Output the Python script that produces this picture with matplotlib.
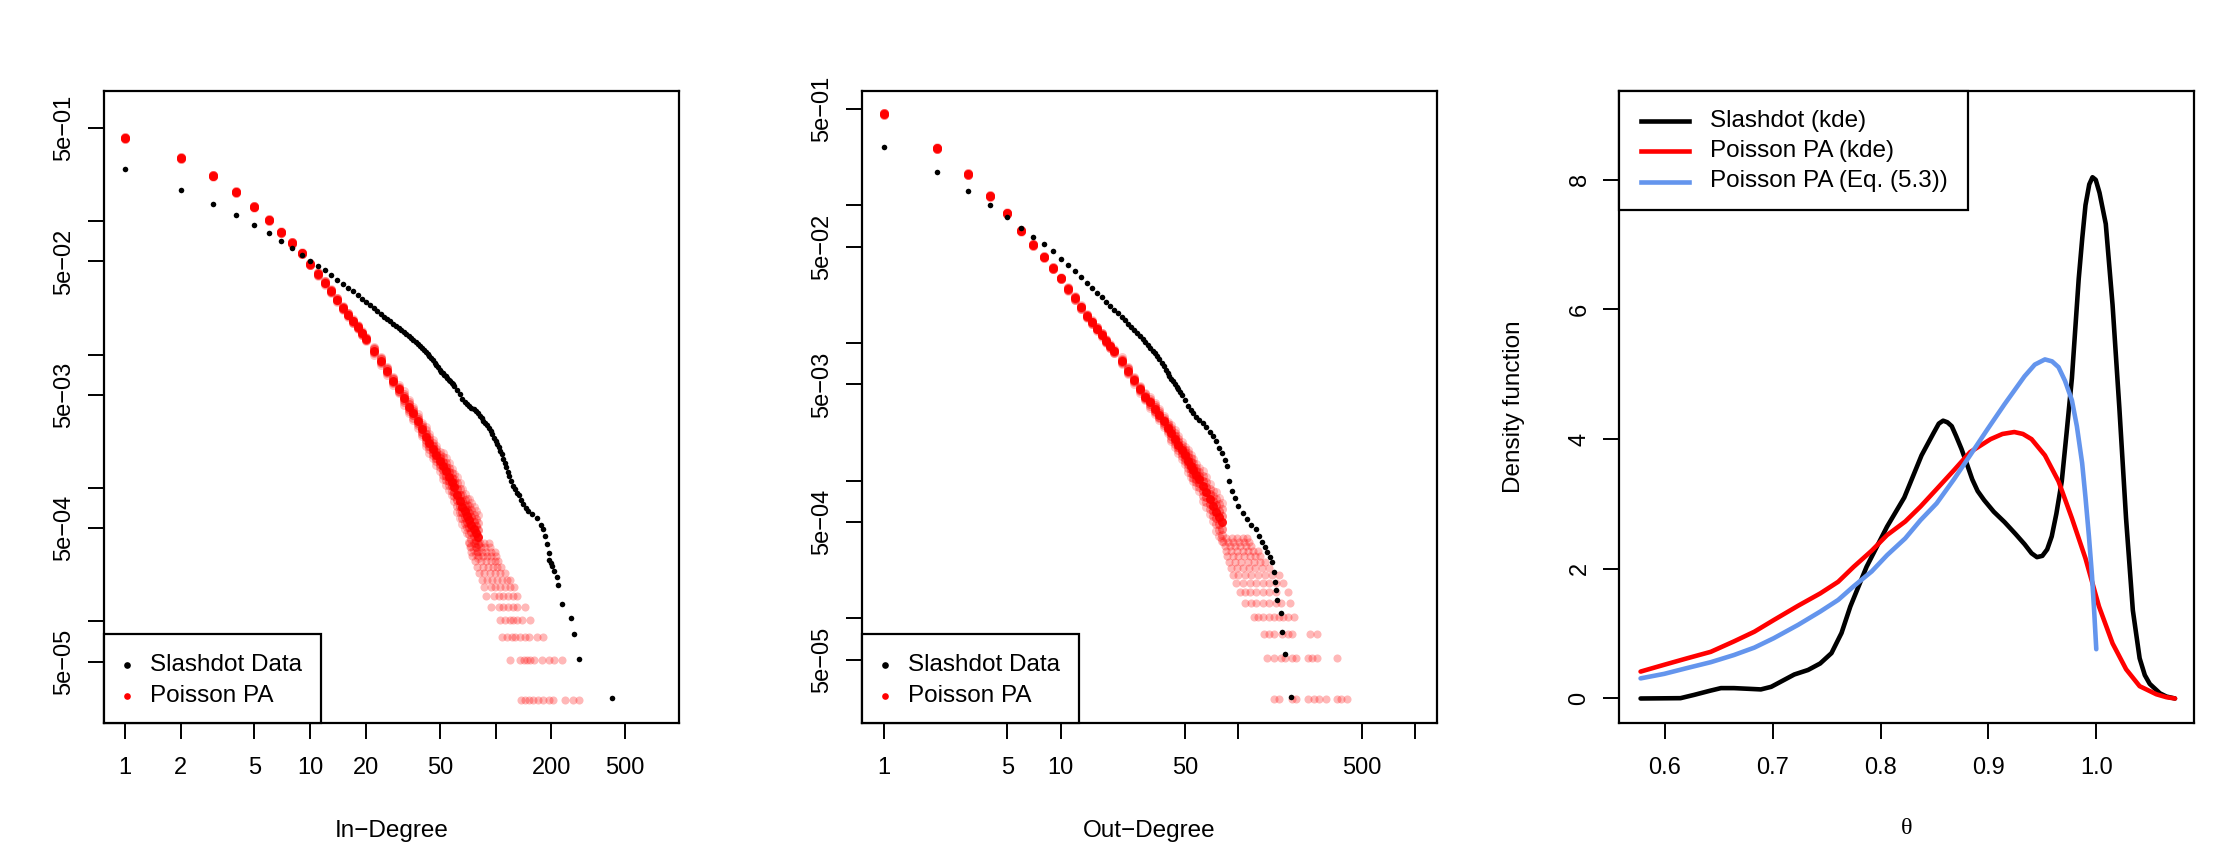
import numpy as np
import matplotlib
matplotlib.use("Agg")
import matplotlib.pyplot as plt
from matplotlib.patches import Rectangle
from matplotlib.lines import Line2D

plt.rcParams['font.family'] = ['Liberation Sans', 'DejaVu Sans']

# ---------------- data ----------------
# Panel 1: in-degree distribution, log10 of relative frequency
black_in_k = list(range(1, 61)) + [62, 64, 66, 68, 70, 72, 74, 76, 78, 80, 82, 84, 86, 88, 90, 92, 94, 96, 98, 100,
                                   102, 104, 106, 108, 110, 112, 114, 116, 118, 121, 124, 127, 130, 133, 137, 141, 145, 150,
                                   158, 167, 175, 180, 185, 190, 193, 195, 198, 201, 207, 214, 218, 227, 256, 265, 280, 424]
black_in_log10p = [-0.612, -0.764, -0.871, -0.957, -1.026, -1.092, -1.145, -1.199, -1.252, -1.301,
                   -1.334, -1.367, -1.405, -1.444, -1.472, -1.499, -1.526, -1.553, -1.580, -1.608,
                   -1.631, -1.653, -1.675, -1.697, -1.715, -1.733, -1.751, -1.768, -1.783, -1.798,
                   -1.813, -1.828, -1.842, -1.858, -1.875, -1.891, -1.908, -1.924, -1.938, -1.953,
                   -1.968, -1.982, -1.997, -2.012, -2.026, -2.044, -2.061, -2.078, -2.095, -2.112,
                   -2.129, -2.141, -2.153, -2.164, -2.176, -2.188, -2.200, -2.212, -2.223, -2.238,
                   -2.268, -2.298, -2.330, -2.352, -2.368, -2.385, -2.398, -2.410, -2.422, -2.440,
                   -2.460, -2.478, -2.495, -2.512, -2.530, -2.552, -2.572, -2.598, -2.625, -2.650,
                   -2.672, -2.695, -2.720, -2.748, -2.780, -2.810, -2.845, -2.880, -2.908,
                   -2.950, -2.985, -3.010, -3.035, -3.051, -3.090, -3.120, -3.150, -3.174,
                   -3.195, -3.227, -3.280, -3.309, -3.360, -3.420, -3.490, -3.543, -3.560, -3.584,
                   -3.625, -3.666, -3.727, -3.871, -3.973, -4.096, -4.281, -4.576]

# simulated (Poisson PA) centre line and half-width of the cloud of runs
red_in_k = list(range(1, 21)) + list(range(22, 81, 2))
red_in_log10p = [-0.375, -0.527, -0.658, -0.781, -0.891, -0.990, -1.084, -1.162, -1.240, -1.322,
                 -1.395, -1.461, -1.522, -1.588, -1.650, -1.700, -1.750, -1.793, -1.840, -1.883,
                 -1.970, -2.045, -2.120, -2.195, -2.260, -2.325, -2.390, -2.440, -2.498, -2.560,
                 -2.615, -2.665, -2.708, -2.755, -2.800, -2.835, -2.875, -2.915, -2.955, -2.995,
                 -3.050, -3.095, -3.140, -3.175, -3.210, -3.242, -3.274, -3.305, -3.335, -3.365]
red_in_spread = ([0.008] * 10 + [0.015] * 10 + [0.03] * 5 + [0.05] * 5 + [0.07] * 5 +
                 [0.10] * 5 + [0.13] * 5 + [0.16] * 5)

N_NODES = 39000  # count level of one node in the simulated networks
red_in_tail_count = ([1] * 11 + [2] * 10 + [3] * 9 + [4] * 7 + [5] * 7 + [6] * 7 + [7] * 7 + [8] * 7 +
                     [9] * 6 + [10] * 6 + [11] * 6 + [12] * 6 + [13] * 6 + [14] * 5 + [15] * 5)
red_in_tail_k = [137, 144, 151, 160, 170, 180, 193, 205, 238, 260, 281,
                 120, 135, 142, 148, 154, 162, 177, 193, 207, 228,
                 108, 115, 122, 128, 135, 144, 152, 167, 180,
                 105, 112, 119, 124, 131, 139, 154,
                 95, 104, 110, 117, 124, 131, 144,
                 89, 98, 104, 110, 117, 124, 131,
                 87, 94, 99, 105, 112, 119, 126,
                 84, 90, 96, 102, 108, 115, 120,
                 81, 87, 93, 99, 106, 113,
                 79, 85, 91, 97, 102, 107,
                 77, 83, 89, 95, 99, 103,
                 75, 80, 85, 90, 95, 100,
                 74, 79, 84, 89, 94, 99,
                 73, 78, 83, 88, 93,
                 72, 77, 82, 87, 92]

# Panel 2: out-degree distribution
black_out_k = list(range(1, 49)) + [50, 52, 54, 56, 58, 60, 63, 66, 69, 72, 75, 78, 81, 84, 87, 89, 92, 96, 100,
                                    106, 112, 119, 126, 132, 137, 142, 146, 151, 155, 159, 162, 164, 166,
                                    174, 177, 184, 199]
black_out_log10p = [-0.578, -0.759, -0.895, -0.998, -1.083, -1.161, -1.227, -1.283, -1.334, -1.386,
                    -1.430, -1.474, -1.520, -1.563, -1.600, -1.637, -1.668, -1.699, -1.729, -1.757,
                    -1.785, -1.810, -1.836, -1.862, -1.885, -1.908, -1.930, -1.950, -1.972, -1.993,
                    -2.013, -2.035, -2.056, -2.076, -2.097, -2.117, -2.142, -2.168, -2.194, -2.220,
                    -2.240, -2.258, -2.279, -2.300, -2.318, -2.337, -2.356, -2.375,
                    -2.415, -2.455, -2.490, -2.512, -2.535, -2.556,
                    -2.578, -2.610, -2.645, -2.675, -2.715, -2.765, -2.800, -2.850, -2.891,
                    -3.002, -3.076, -3.130, -3.187,
                    -3.235, -3.279, -3.320, -3.353, -3.400, -3.445, -3.480, -3.519, -3.555, -3.593,
                    -3.666, -3.740, -3.796, -3.869, -3.962, -4.098, -4.264, -4.570]

red_out_k = list(range(1, 21)) + list(range(22, 61, 2)) + list(range(63, 82, 3))
red_out_log10p = [-0.334, -0.585, -0.773, -0.932, -1.057, -1.183, -1.286, -1.375, -1.456, -1.530,
                  -1.607, -1.674, -1.740, -1.803, -1.850, -1.895, -1.940, -1.985, -2.024, -2.060,
                  -2.130, -2.200, -2.270, -2.335, -2.390, -2.432, -2.478, -2.522, -2.570, -2.615,
                  -2.655, -2.695, -2.738, -2.781, -2.817, -2.854, -2.891, -2.925, -2.960, -2.992,
                  -3.039, -3.085, -3.134, -3.182, -3.225, -3.266, -3.302]
red_out_spread = ([0.008] * 10 + [0.015] * 10 + [0.025] * 5 + [0.04] * 5 + [0.06] * 5 +
                  [0.08] * 5 + [0.11] * 4 + [0.14] * 3)

red_out_tail_count = ([1] * 11 + [2] * 10 + [3] * 8 + [4] * 9 + [5] * 8 + [6] * 8 + [7] * 8 + [8] * 8 +
                      [9] * 7 + [10] * 7 + [11] * 7 + [12] * 7 + [13] * 6 + [14] * 6 + [15] * 6)
red_out_tail_k = [160, 169, 201, 213, 247, 269, 286, 312, 361, 382, 410,
                  146, 160, 174, 185, 201, 213, 247, 262, 277, 361,
                  140, 150, 160, 177, 190, 201, 254, 277,
                  123, 130, 138, 150, 160, 169, 179, 190, 207,
                  109, 119, 126, 138, 150, 164, 174, 195,
                  103, 109, 116, 126, 138, 150, 164, 190,
                  97, 106, 116, 126, 138, 150, 164, 179,
                  94, 100, 109, 119, 130, 142, 155, 169,
                  91, 98, 106, 115, 125, 137, 150,
                  89, 96, 104, 113, 123, 133, 142,
                  87, 93, 100, 108, 116, 124, 133,
                  85, 91, 98, 106, 114, 122, 130,
                  84, 90, 96, 103, 111, 119,
                  82, 88, 94, 101, 108, 115,
                  80, 86, 92, 99, 106, 112]

# Panel 3: density curves
slash_theta = [0.5775, 0.6145, 0.627, 0.642, 0.652, 0.664, 0.677, 0.689, 0.6986, 0.711,
               0.720, 0.7328, 0.744, 0.7545, 0.7638, 0.772, 0.787, 0.806, 0.822, 0.838,
               0.849, 0.854, 0.858, 0.862, 0.866, 0.870, 0.875, 0.880, 0.885, 0.890,
               0.896, 0.905, 0.915, 0.925, 0.9335, 0.940, 0.945, 0.950, 0.9545, 0.9587,
               0.963, 0.968, 0.9725, 0.9774, 0.9837, 0.987, 0.990, 0.9935, 0.9965, 0.9995,
               1.003, 1.0088, 1.0151, 1.0214, 1.0276, 1.0339, 1.0402, 1.045, 1.0496, 1.059,
               1.065, 1.073]
slash_dens = [0.0, 0.005, 0.055, 0.12, 0.16, 0.16, 0.15, 0.14, 0.18, 0.29,
              0.37, 0.44, 0.54, 0.70, 1.01, 1.42, 2.03, 2.65, 3.10, 3.75,
              4.09, 4.24, 4.285, 4.26, 4.20, 4.05, 3.85, 3.62, 3.38, 3.20,
              3.06, 2.88, 2.72, 2.54, 2.38, 2.24, 2.18, 2.20, 2.30, 2.50,
              2.85, 3.35, 4.10, 4.94, 6.47, 7.10, 7.61, 7.93, 8.04, 8.00,
              7.80, 7.32, 6.07, 4.48, 2.78, 1.36, 0.62, 0.36, 0.225, 0.08,
              0.03, 0.0]
ppa_theta = [0.5775, 0.5994, 0.6207, 0.6426, 0.664, 0.683, 0.701, 0.7235, 0.744, 0.7607,
             0.775, 0.7918, 0.806, 0.8229, 0.837, 0.852, 0.868, 0.883, 0.902, 0.913,
             0.924, 0.932, 0.940, 0.9524, 0.965, 0.9774, 0.990, 1.0025, 1.0151, 1.0277,
             1.0402, 1.0557, 1.065, 1.073]
ppa_dens = [0.415, 0.52, 0.62, 0.72, 0.88, 1.03, 1.21, 1.43, 1.62, 1.80,
            2.03, 2.28, 2.52, 2.73, 2.96, 3.23, 3.52, 3.80, 4.00, 4.08,
            4.11, 4.08, 4.00, 3.75, 3.35, 2.78, 2.16, 1.42, 0.85, 0.45,
            0.19, 0.065, 0.02, 0.0]
eq_theta = [0.5775, 0.5994, 0.6207, 0.6426, 0.664, 0.683, 0.701, 0.7235, 0.744, 0.7607,
            0.775, 0.7918, 0.806, 0.8229, 0.837, 0.852, 0.868, 0.883, 0.899, 0.915,
            0.9335, 0.943, 0.9524, 0.959, 0.965, 0.971, 0.9774, 0.982, 0.9869, 0.990,
            0.9932, 0.996, 0.998, 1.0]
eq_dens = [0.31, 0.38, 0.47, 0.56, 0.67, 0.785, 0.93, 1.135, 1.34, 1.52,
           1.73, 1.96, 2.21, 2.47, 2.75, 3.01, 3.38, 3.75, 4.15, 4.54,
           4.97, 5.15, 5.23, 5.20, 5.11, 4.90, 4.60, 4.20, 3.63, 3.10,
           2.50, 1.90, 1.36, 0.76]

deg_xticks_in = [1, 2, 5, 10, 20, 50, 100, 200, 500]
deg_xlabels_in = ['1', '2', '5', '10', '20', '50', '', '200', '500']
deg_xticks_out = [1, 5, 10, 50, 100, 500, 1000]
deg_xlabels_out = ['1', '5', '10', '50', '', '500', '']
deg_yticks = [0.5, 0.1, 0.05, 0.01, 0.005, 0.001, 5e-4, 1e-4, 5e-5]
deg_ylabels = ['5e\u221201', '', '5e\u221202', '', '5e\u221203', '', '5e\u221204', '', '5e\u221205']
dens_xticks = [0.6, 0.7, 0.8, 0.9, 1.0]
dens_xlabels = ['0.6', '0.7', '0.8', '0.9', '1.0']
dens_yticks = [0, 2, 4, 6, 8]
dens_ylabels = ['0', '2', '4', '6', '8']

legend_deg = ['Slashdot Data', 'Poisson PA']
legend_dens = ['Slashdot (kde)', 'Poisson PA (kde)', 'Poisson PA (Eq. (5.3))']

# ---------------- figure ----------------
W, H = 2236, 856
fig = plt.figure(figsize=(W / 100, H / 100), dpi=100)
AX_TOP, AX_BOT, AXW = 91, 723, 575
LEFTS = [104, 862, 1619]
FS = 17.5
FS_TICK = 17
RED = '#FF0000'
BLUE = '#6495ED'
LW = 3.3


def fx(px):
    return px / W


def fy(py):
    return 1 - py / H


def add_ax(left):
    return fig.add_axes([fx(left), fy(AX_BOT), AXW / W, (AX_BOT - AX_TOP) / H])


def style(ax):
    for s in ax.spines.values():
        s.set_linewidth(1.6)
        s.set_color('black')
    ax.tick_params(which='major', direction='out', length=11.5, width=1.4,
                   labelsize=FS_TICK, color='black')
    ax.tick_params(axis='x', pad=13)
    ax.tick_params(axis='y', pad=9)
    ax.minorticks_off()


def set_yrot(ax, ticks, labels):
    ax.set_yticks(ticks)
    ax.set_yticklabels(labels)
    for lab in ax.get_yticklabels():
        lab.set_rotation(90)
        lab.set_va('center')
        lab.set_ha('right')


def degree_panel(left, bk, blp, rk, rlp, rspread, tailk, tailc, xlim, ylim, xt, xl, xlabel):
    ax = add_ax(left)
    ax.set_xscale('log')
    ax.set_yscale('log')
    # tail rows of the simulated runs (few nodes per degree)
    ax.scatter(tailk, np.array(tailc) / N_NODES, s=34, color=RED, alpha=0.28, linewidths=0, zorder=2)
    # cloud of simulated runs around the centre line
    m = np.array(rlp)
    w = np.array(rspread)
    for frac, a in [(1.0, 0.22), (0.66, 0.3), (0.33, 0.45)]:
        for sgn in (1, -1):
            ax.scatter(rk, 10 ** (m + sgn * frac * w), s=42, color=RED, alpha=a, linewidths=0, zorder=2)
    ax.scatter(rk, 10 ** m, s=42, color=RED, alpha=0.92, linewidths=0, zorder=3)
    ax.scatter(bk, 10 ** np.array(blp), s=16, color='black', linewidths=0, zorder=4)
    ax.set_xlim(*xlim)
    ax.set_ylim(*ylim)
    style(ax)
    ax.set_xticks(xt)
    ax.set_xticklabels(xl)
    set_yrot(ax, deg_yticks, deg_ylabels)
    ax.minorticks_off()
    fig.text(fx(left + AXW / 2), fy(831), xlabel, ha='center', va='center', fontsize=FS)
    # legend (bottom-left)
    fig.add_artist(Rectangle((fx(left), fy(AX_BOT)), 217 / W, (AX_BOT - 634) / H,
                             transform=fig.transFigure, facecolor='white', edgecolor='black',
                             linewidth=1.6, zorder=5))
    for i, (lab, col) in enumerate(zip(legend_deg, ['black', RED])):
        yy = 665 + 30.5 * i
        fig.add_artist(Line2D([fx(left + 22.5)], [fy(yy)], marker='o', markersize=4.8,
                              markeredgewidth=0, color=col, transform=fig.transFigure, zorder=6))
        fig.text(fx(left + 45.5), fy(yy), lab, ha='left', va='center', fontsize=FS, zorder=6)
    return ax


degree_panel(LEFTS[0], black_in_k, black_in_log10p, red_in_k, red_in_log10p, red_in_spread,
             red_in_tail_k, red_in_tail_count,
             (0.773, 975), (1.73e-5, 0.947), deg_xticks_in, deg_xlabels_in, 'In\u2212Degree')
degree_panel(LEFTS[1], black_out_k, black_out_log10p, red_out_k, red_out_log10p, red_out_spread,
             red_out_tail_k, red_out_tail_count,
             (0.756, 1324), (1.73e-5, 0.679), deg_xticks_out, deg_xlabels_out, 'Out\u2212Degree')

# Panel 3
ax3 = add_ax(LEFTS[2])
ax3.plot(slash_theta, slash_dens, color='black', lw=LW, solid_capstyle='round', solid_joinstyle='round')
ax3.plot(ppa_theta, ppa_dens, color=RED, lw=LW, solid_capstyle='round', solid_joinstyle='round')
ax3.plot(eq_theta, eq_dens, color=BLUE, lw=LW, solid_capstyle='round', solid_joinstyle='round')
ax3.set_xlim(0.5575, 1.0906)
ax3.set_ylim(-0.378, 9.37)
style(ax3)
ax3.set_xticks(dens_xticks)
ax3.set_xticklabels(dens_xlabels)
set_yrot(ax3, dens_yticks, dens_ylabels)
fig.text(fx(LEFTS[2] + AXW / 2), fy(828), '\u03b8', ha='center', va='center', fontsize=FS,
         family=['Liberation Serif', 'DejaVu Serif'])
fig.text(fx(1514), fy(407), 'Density function', ha='center', va='center', rotation=90, fontsize=FS)

L3 = LEFTS[2]
fig.add_artist(Rectangle((fx(L3), fy(210)), 349 / W, (210 - AX_TOP) / H,
                         transform=fig.transFigure, facecolor='white', edgecolor='black',
                         linewidth=1.6, zorder=5))
for i, (lab, col) in enumerate(zip(legend_dens, ['black', RED, BLUE])):
    yy = 121 + 30.25 * i
    fig.add_artist(Line2D([fx(L3 + 21.6), fx(L3 + 69.7)], [fy(yy), fy(yy)], color=col, lw=LW,
                          transform=fig.transFigure, zorder=6))
    fig.text(fx(L3 + 91), fy(yy), lab, ha='left', va='center', fontsize=FS, zorder=6)

fig.savefig('out.png', dpi=100)
